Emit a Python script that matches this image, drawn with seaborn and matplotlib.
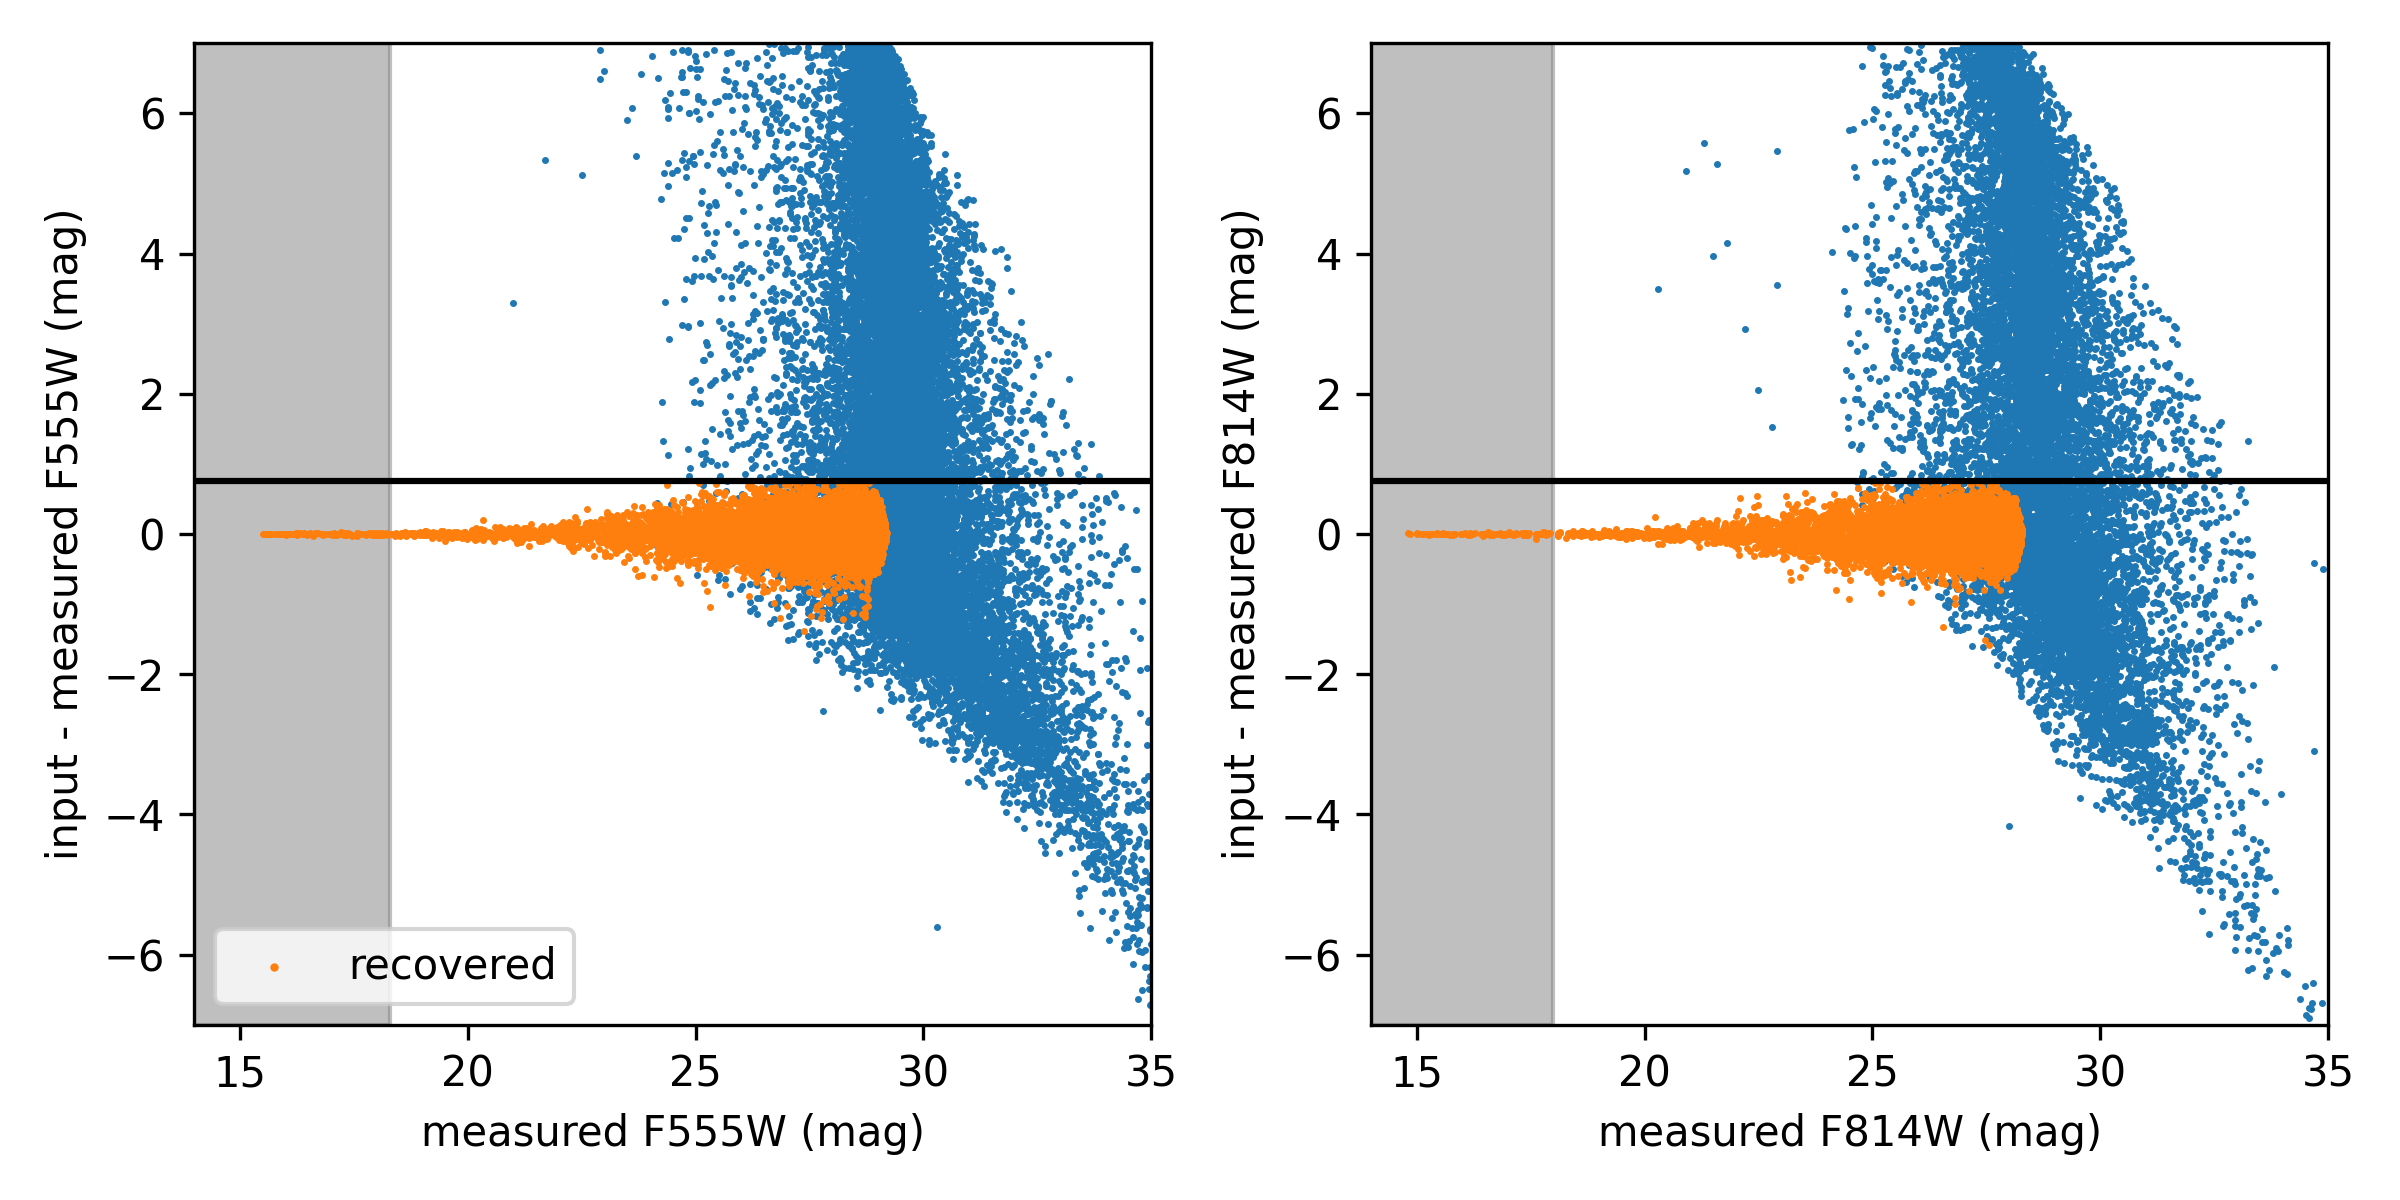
import numpy as np
import pandas as pd
import matplotlib
matplotlib.use("Agg")
import matplotlib.pyplot as plt
import seaborn as sns

BLUE = "#1f77b4"
ORANGE = "#ff7f0e"

Y_KNOTS = np.arange(-7, 8)

# ---- F555W panel -------------------------------------------------------
# x extent of the sparse cloud and of the dense core at each y level
f555_edge_lo = [34.8, 34.0, 33.0, 31.6, 30.0, 28.0, 25.8, 23.8, 24.0, 23.8, 24.0, 24.0, 23.8, 23.6, 23.6]
f555_edge_hi = [35.5, 35.5, 35.5, 35.3, 35.0, 35.0, 34.8, 34.8, 34.5, 33.6, 32.7, 31.8, 30.9, 30.0, 29.3]
f555_core_lo = [34.6, 34.2, 33.6, 32.4, 31.0, 29.6, 28.2, 27.8, 28.1, 28.3, 28.4, 28.5, 28.5, 28.5, 28.4]
f555_core_hi = [35.5, 35.5, 35.4, 34.8, 33.3, 32.4, 31.4, 31.1, 30.8, 30.5, 30.3, 30.2, 29.9, 29.6, 29.2]
# points per 1-mag band in y (bands -7..-6 up to 6..7)
f555_core_n = [15, 45, 110, 300, 800, 2000, 2800, 2600, 2000, 1800, 1700, 1700, 1600, 1500]
f555_halo_n = [10, 25, 50, 110, 170, 230, 300, 300, 300, 280, 260, 240, 220, 190]
# isolated points
f555_out_x = [21.0, 21.7, 22.5, 22.9, 22.9, 23.0, 23.5, 23.6, 23.7, 24.3, 24.4, 24.5, 24.7, 24.7, 24.95, 30.3, 27.8]
f555_out_y = [3.29, 5.33, 5.12, 6.9, 6.49, 6.6, 5.9, 6.07, 5.39, 5.15, 6.06, 6.87, 6.59, 5.34, 5.39, -5.6, -2.53]
# recovered stars: magnitude bins, counts per bin, scatter per bin
f555_rec_edges = [15.5, 16, 17, 18, 19, 20, 21, 22, 23, 24, 25, 26, 27, 28, 29.2]
f555_rec_n = [20, 40, 45, 50, 60, 80, 110, 160, 250, 400, 700, 1200, 2000, 3000]
f555_rec_sig = [0.004, 0.006, 0.01, 0.015, 0.025, 0.04, 0.06, 0.1, 0.15, 0.2, 0.23, 0.25, 0.26, 0.26]
f555_rec_edge_07 = 28.8   # faint edge of the recovered clump at |dmag| = 0.75
f555_limit = 18.3

# ---- F814W panel -------------------------------------------------------
f814_edge_lo = [34.2, 32.2, 31.2, 29.7, 28.8, 27.8, 26.2, 24.5, 24.3, 24.0, 24.5, 24.0, 24.3, 24.5, 24.3]
f814_edge_hi = [35.0, 35.0, 34.5, 34.5, 34.3, 34.0, 33.6, 33.6, 33.9, 32.6, 31.7, 30.8, 30.3, 29.3, 28.4]
f814_core_lo = [34.4, 32.8, 31.8, 30.5, 29.5, 28.4, 27.5, 26.8, 26.7, 27.0, 27.1, 27.2, 27.3, 27.3, 27.1]
f814_core_hi = [35.0, 34.6, 33.6, 32.3, 31.7, 31.0, 30.8, 30.6, 30.5, 30.2, 29.9, 29.6, 29.3, 28.9, 28.2]
f814_core_n = [8, 25, 60, 200, 550, 1300, 1800, 1500, 1100, 1000, 950, 950, 900, 850]
f814_halo_n = [8, 20, 40, 90, 140, 180, 220, 240, 240, 220, 210, 190, 170, 150]
f814_out_x = [20.3, 20.9, 21.3, 21.6, 21.8, 21.5, 22.2, 22.5, 22.8, 22.9, 22.9, 28.0, 34.7, 34.9, 34.7]
f814_out_y = [3.49, 5.18, 5.58, 5.27, 4.15, 3.96, 2.93, 2.06, 1.53, 3.55, 5.46, -4.17, -0.42, -0.5, -3.1]
f814_rec_edges = [14.8, 15, 16, 17, 18, 19, 20, 21, 22, 23, 24, 25, 26, 27, 28.3]
f814_rec_n = [2, 30, 35, 40, 50, 60, 80, 120, 180, 300, 500, 900, 1500, 2000]
f814_rec_sig = [0.004, 0.005, 0.008, 0.012, 0.02, 0.03, 0.05, 0.08, 0.13, 0.18, 0.22, 0.24, 0.25, 0.26]
f814_rec_edge_07 = 27.8
f814_limit = 18.0

rng = np.random.default_rng(7)


def blue_cloud(edge_lo, edge_hi, core_lo, core_hi, core_n, halo_n, out_x, out_y):
    xs, ys = [list(out_x)], [list(out_y)]
    for i in range(len(Y_KNOTS) - 1):
        for n, dense in ((core_n[i], True), (halo_n[i], False)):
            y = rng.uniform(Y_KNOTS[i], Y_KNOTS[i + 1], n)
            clo = np.interp(y, Y_KNOTS, core_lo)
            chi = np.interp(y, Y_KNOTS, core_hi)
            mid = (clo + chi) / 2
            lo = np.interp(y, Y_KNOTS, edge_lo)
            hi = np.interp(y, Y_KNOTS, edge_hi)
            if dense:
                # peaked core with shoulders on both sides, nothing past the edges
                x = mid + (chi - clo) / 2 * rng.laplace(0, 0.5, n)
                keep = (x >= lo) & (x <= hi)
                x, y = x[keep], y[keep]
            else:
                x = rng.triangular(lo, np.clip(mid, lo, hi), hi + 1e-6)
            xs.append(x)
            ys.append(y)
    return pd.DataFrame({"mag": np.concatenate(xs), "dmag": np.concatenate(ys)})


def recovered(edges, counts, sigmas, edge_07):
    xs, ys = [], []
    for i, n in enumerate(counts):
        x = rng.uniform(edges[i], edges[i + 1], n)
        wide = rng.random(n) < 0.07
        y = rng.normal(0, sigmas[i], n) * np.where(wide, 2.0, 1.0)
        # faint end of the clump is slightly rounded at large |dmag|
        x_max = np.interp(np.abs(y), [0, 0.5, 0.75], [edges[-1], edges[-1] - 0.15, edge_07])
        keep = (y < 0.74) & (x <= x_max)
        xs.append(x[keep])
        ys.append(y[keep])
    return pd.DataFrame({"mag": np.concatenate(xs), "dmag": np.concatenate(ys)})


panels = [
    ("F555W", f555_limit,
     blue_cloud(f555_edge_lo, f555_edge_hi, f555_core_lo, f555_core_hi,
                f555_core_n, f555_halo_n, f555_out_x, f555_out_y),
     recovered(f555_rec_edges, f555_rec_n, f555_rec_sig, f555_rec_edge_07)),
    ("F814W", f814_limit,
     blue_cloud(f814_edge_lo, f814_edge_hi, f814_core_lo, f814_core_hi,
                f814_core_n, f814_halo_n, f814_out_x, f814_out_y),
     recovered(f814_rec_edges, f814_rec_n, f814_rec_sig, f814_rec_edge_07)),
]

fig, axes = plt.subplots(1, 2, figsize=(8, 4), dpi=300)
fig.subplots_adjust(left=0.081, right=0.970, bottom=0.146, top=0.964, wspace=0.23)

for ax, (band, limit, allstars, rec) in zip(axes, panels):
    ax.axvspan(14, limit, color="grey", alpha=0.5)
    sns.scatterplot(data=allstars, x="mag", y="dmag", ax=ax, s=2.8,
                    linewidth=0, color=BLUE, legend=False)
    sns.scatterplot(data=rec, x="mag", y="dmag", ax=ax, s=2.8,
                    linewidth=0, color=ORANGE, label="recovered", legend=False)
    ax.axhline(0.75, color="k")
    ax.set_xlim(14, 35)
    ax.set_ylim(-7, 7)
    ax.set_xlabel(f"measured {band} (mag)")
    ax.set_ylabel(f"input - measured {band} (mag)")

axes[0].legend(loc="lower left", markerscale=1.2)

fig.savefig("out.png", dpi=300)
